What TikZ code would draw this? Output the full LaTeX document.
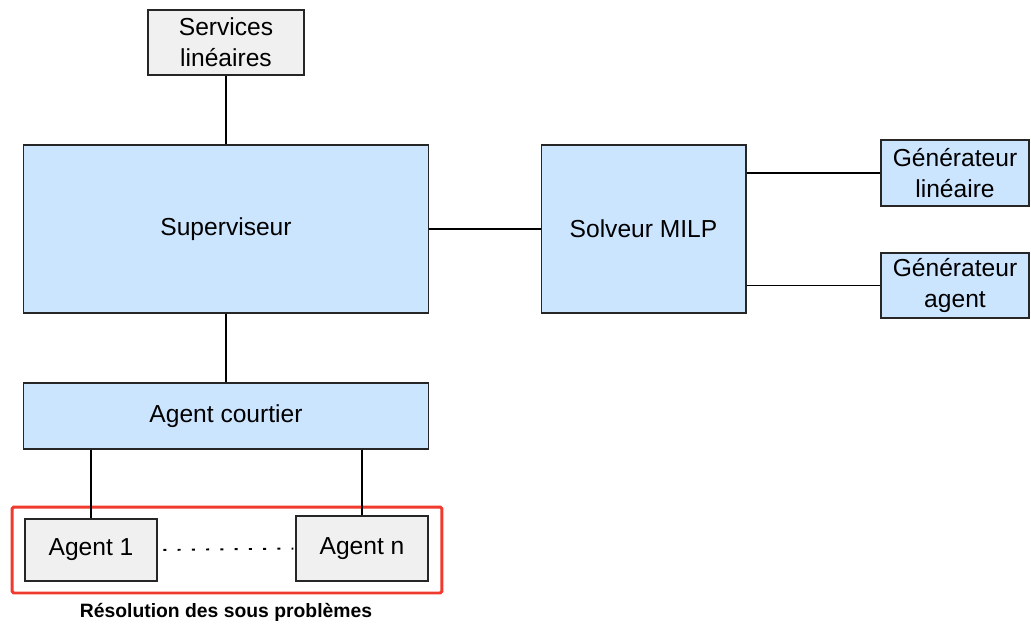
\documentclass[tikz,border=0pt]{standalone}
\usepackage{fontspec}
\setmainfont{Liberation Sans}
\usepackage{xcolor}
\usepackage{tikz}
\usetikzlibrary{positioning,calc}

\definecolor{boxblue}{HTML}{CCE5FF}
\definecolor{boxgray}{HTML}{F0F0F0}
\definecolor{grpred}{HTML}{F03A2E}

\begin{document}
\begin{tikzpicture}[x=0.02cm,y=-0.02cm,every node/.style={font=\fontsize{14}{17.5}\selectfont}]
\tikzstyle{blk}=[draw=black!85,line width=0.6pt,fill=boxblue,align=center,inner sep=0pt]
\tikzstyle{gblk}=[blk,fill=boxgray]
\tikzstyle{lnk}=[line width=1.1pt]
\useasboundingbox (0,0) rectangle (1031,623);
\node[gblk,minimum width=3.12cm,minimum height=1.3cm] (serv) at (226,42.5) {Services\\linéaires};
\node[blk,minimum width=8.12cm,minimum height=3.36cm] (sup) at (226,229) {Superviseur};
\node[blk,minimum width=4.1cm,minimum height=3.36cm] (solv) at (643.5,229) {Solveur MILP};
\node[blk,minimum width=2.96cm,minimum height=1.32cm] (genlin) at (955,173) {Générateur\\linéaire};
\node[blk,minimum width=2.96cm,minimum height=1.3cm] (genag) at (955,285.5) {Générateur\\agent};
\node[blk,minimum width=8.12cm,minimum height=1.32cm] (court) at (226,416) {Agent courtier};
\node[gblk,minimum width=2.64cm,minimum height=1.24cm] (ag1) at (91,550) {Agent 1};
\node[gblk,minimum width=2.64cm,minimum height=1.3cm] (agn) at (362,548.5) {Agent n};
\node[draw=grpred,line width=1.7pt,rounded corners=1pt,minimum width=8.6cm,minimum height=1.72cm] (grp) at (227,550) {};
\node[font=\fontsize{11}{13}\selectfont\bfseries] (lbl) at (226,612.5) {Résolution des sous problèmes};
\draw[lnk] (serv)--(sup); \draw[lnk] (sup)--(solv); \draw[lnk] (sup)--(court);
\draw[lnk] (solv.east |- genlin.west)--(genlin.west);
\draw[lnk] (solv.east |- genag.west)--(genag.west);
\draw[lnk] (ag1.north |- court.south)--(ag1.north);
\draw[lnk] (agn.north |- court.south)--(agn.north);
\draw[line width=1.1pt,dash pattern=on 1.7pt off 6.4pt,shorten <=3.4pt,shorten >=1.2pt] (ag1.east)--(agn.west);
\end{tikzpicture}
\end{document}
